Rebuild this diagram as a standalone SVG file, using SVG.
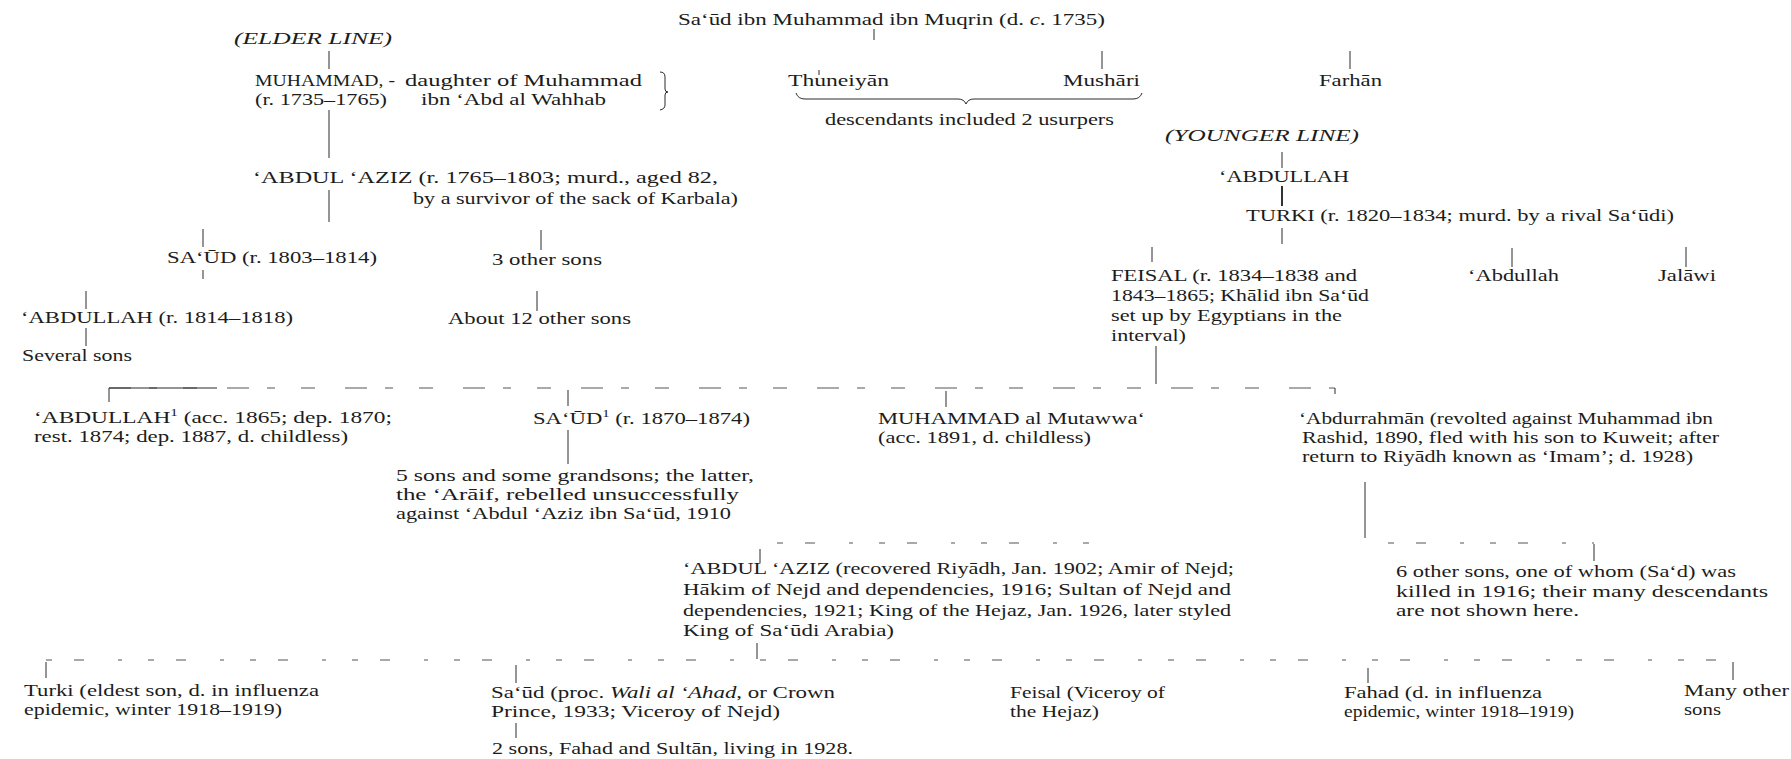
<svg xmlns="http://www.w3.org/2000/svg" width="1791" height="759" viewBox="0 0 1791 759">
<style>
text{font-family:"Liberation Serif","DejaVu Serif",serif;font-size:17px;fill:#1c1c1c}
.it{font-style:italic}
.sup{font-size:11px}
.c{stroke:#2a2a2a;stroke-width:1;fill:none}
.b{stroke:#1c1c1c;stroke-width:1.8;fill:none}
.f{stroke:#555;stroke-width:1;fill:none;stroke-dasharray:22 18 8 26 14 30}
.f2{stroke:#555;stroke-width:1;fill:none;stroke-dasharray:6 22 10 34 4 26}
</style>
<rect width="1791" height="759" fill="#fff"/>
<g id="connectors">
<line class="c" x1="874" y1="29" x2="874" y2="40"/>
<line class="c" x1="329" y1="51" x2="329" y2="69"/>
<line class="c" x1="329" y1="110" x2="329" y2="158"/>
<line class="c" x1="329" y1="190" x2="329" y2="222"/>
<line class="c" x1="203" y1="229" x2="203" y2="247"/>
<line class="c" x1="203" y1="270" x2="203" y2="279"/>
<line class="c" x1="541" y1="230" x2="541" y2="250"/>
<line class="c" x1="86" y1="291" x2="86" y2="309"/>
<line class="c" x1="537" y1="291" x2="537" y2="311"/>
<line class="c" x1="86" y1="328" x2="86" y2="346"/>
<line class="c" x1="819" y1="70" x2="819" y2="75"/>
<line class="c" x1="1102" y1="51" x2="1102" y2="69"/>
<line class="c" x1="1350" y1="51" x2="1350" y2="69"/>
<path class="c" d="M796,93 q2,6 9,6 H958 q6,0 8,5 q2,-5 8,-5 H1133 q7,0 9,-6"/>
<path class="c" d="M660,72 q5,0 5,5 v12 q0,3 3,3 q-3,0 -3,3 v10 q0,4 -5,5"/>
<line class="c" x1="1282" y1="152" x2="1282" y2="168"/>
<line class="b" x1="1282" y1="186" x2="1282" y2="206"/>
<line class="c" x1="1282" y1="228" x2="1282" y2="244"/>
<line class="c" x1="1152" y1="247" x2="1152" y2="262"/>
<line class="c" x1="1512" y1="248" x2="1512" y2="267"/>
<line class="c" x1="1686" y1="247" x2="1686" y2="267"/>
<line class="c" x1="1156" y1="346" x2="1156" y2="384"/>
<line class="f" x1="109" y1="388" x2="1335" y2="388"/>
<line class="c" x1="109" y1="388" x2="217" y2="388"/>
<line class="c" x1="109" y1="388" x2="109" y2="402"/>
<line class="c" x1="1335" y1="388" x2="1335" y2="394"/>
<line class="c" x1="568" y1="390" x2="568" y2="406"/>
<line class="c" x1="946" y1="391" x2="946" y2="407"/>
<line class="c" x1="568" y1="430" x2="568" y2="464"/>
<line class="c" x1="1365" y1="482" x2="1365" y2="538"/>
<line class="f2" x1="777" y1="543" x2="1097" y2="543"/>
<line class="f2" x1="1388" y1="543" x2="1594" y2="543"/>
<line class="c" x1="1594" y1="544" x2="1594" y2="561"/>
<line class="c" x1="760" y1="549" x2="760" y2="563"/>
<line class="c" x1="757" y1="643" x2="757" y2="659"/>
<line class="f2" x1="46" y1="660" x2="1733" y2="660"/>
<line class="c" x1="46" y1="662" x2="46" y2="678"/>
<line class="c" x1="516" y1="665" x2="516" y2="683"/>
<line class="c" x1="1368" y1="668" x2="1368" y2="683"/>
<line class="c" x1="1733" y1="662" x2="1733" y2="680"/>
<line class="c" x1="516" y1="723" x2="516" y2="738"/>
</g>
<g id="saud-ibn-muhammad"><text x="678" y="25" textLength="427" lengthAdjust="spacingAndGlyphs">Sa‘ūd ibn Muhammad ibn Muqrin (d. <tspan class="it">c</tspan>. 1735)</text></g>
<g id="elder-line"><text class="it" x="234" y="44" textLength="158" lengthAdjust="spacingAndGlyphs">(ELDER LINE)</text></g>
<g id="muhammad">
<text x="255" y="86" textLength="140" lengthAdjust="spacingAndGlyphs">MUHAMMAD, -</text>
<text x="255" y="105" textLength="132" lengthAdjust="spacingAndGlyphs">(r. 1735–1765)</text>
</g>
<g id="daughter">
<text x="405" y="86" textLength="237" lengthAdjust="spacingAndGlyphs">daughter of Muhammad</text>
<text x="421" y="105" textLength="185" lengthAdjust="spacingAndGlyphs">ibn ‘Abd al Wahhab</text>
</g>
<g id="abdul-aziz-1">
<text x="253" y="183" textLength="465" lengthAdjust="spacingAndGlyphs">‘ABDUL ‘AZIZ (r. 1765–1803; murd., aged 82,</text>
<text x="413" y="204" textLength="325" lengthAdjust="spacingAndGlyphs">by a survivor of the sack of Karbala)</text>
</g>
<g id="saud-1"><text x="167" y="263" textLength="210" lengthAdjust="spacingAndGlyphs">SA‘ŪD (r. 1803–1814)</text></g>
<g id="three-other-sons"><text x="492" y="265" textLength="110" lengthAdjust="spacingAndGlyphs">3 other sons</text></g>
<g id="abdullah-1"><text x="21" y="323" textLength="272" lengthAdjust="spacingAndGlyphs">‘ABDULLAH (r. 1814–1818)</text></g>
<g id="about-12-sons"><text x="448" y="324" textLength="183" lengthAdjust="spacingAndGlyphs">About 12 other sons</text></g>
<g id="several-sons"><text x="22" y="361" textLength="110" lengthAdjust="spacingAndGlyphs">Several sons</text></g>
<g id="thuneiyan"><text x="788" y="86" textLength="101" lengthAdjust="spacingAndGlyphs">Thuneiyān</text></g>
<g id="mushari"><text x="1063" y="86" textLength="77" lengthAdjust="spacingAndGlyphs">Mushāri</text></g>
<g id="descendants"><text x="825" y="125" textLength="289" lengthAdjust="spacingAndGlyphs">descendants included 2 usurpers</text></g>
<g id="farhan"><text x="1319" y="86" textLength="63" lengthAdjust="spacingAndGlyphs">Farhān</text></g>
<g id="younger-line"><text class="it" x="1165" y="141" textLength="194" lengthAdjust="spacingAndGlyphs">(YOUNGER LINE)</text></g>
<g id="abdullah-2"><text x="1219" y="182" textLength="130" lengthAdjust="spacingAndGlyphs">‘ABDULLAH</text></g>
<g id="turki-1"><text x="1246" y="221" textLength="428" lengthAdjust="spacingAndGlyphs">TURKI (r. 1820–1834; murd. by a rival Sa‘ūdi)</text></g>
<g id="feisal-1">
<text x="1111" y="281" textLength="246" lengthAdjust="spacingAndGlyphs">FEISAL (r. 1834–1838 and</text>
<text x="1111" y="301" textLength="258" lengthAdjust="spacingAndGlyphs">1843–1865; Khālid ibn Sa‘ūd</text>
<text x="1111" y="321" textLength="231" lengthAdjust="spacingAndGlyphs">set up by Egyptians in the</text>
<text x="1111" y="341" textLength="75" lengthAdjust="spacingAndGlyphs">interval)</text>
</g>
<g id="abdullah-3"><text x="1468" y="281" textLength="91" lengthAdjust="spacingAndGlyphs">‘Abdullah</text></g>
<g id="jalawi"><text x="1658" y="281" textLength="58" lengthAdjust="spacingAndGlyphs">Jalāwi</text></g>
<g id="abdullah-4">
<text x="34" y="423" textLength="358" lengthAdjust="spacingAndGlyphs">‘ABDULLAH<tspan class="sup" dy="-7">1</tspan><tspan dy="7"> (acc. 1865; dep. 1870;</tspan></text>
<text x="34" y="442" textLength="314" lengthAdjust="spacingAndGlyphs">rest. 1874; dep. 1887, d. childless)</text>
</g>
<g id="saud-2"><text x="533" y="424" textLength="217" lengthAdjust="spacingAndGlyphs">SA‘ŪD<tspan class="sup" dy="-7">1</tspan><tspan dy="7"> (r. 1870–1874)</tspan></text></g>
<g id="five-sons">
<text x="396" y="481" textLength="358" lengthAdjust="spacingAndGlyphs">5 sons and some grandsons; the latter,</text>
<text x="396" y="500" textLength="343" lengthAdjust="spacingAndGlyphs">the ‘Arāif, rebelled unsuccessfully</text>
<text x="396" y="519" textLength="335" lengthAdjust="spacingAndGlyphs">against ‘Abdul ‘Aziz ibn Sa‘ūd, 1910</text>
</g>
<g id="muhammad-mutawwa">
<text x="878" y="424" textLength="267" lengthAdjust="spacingAndGlyphs">MUHAMMAD al Mutawwa‘</text>
<text x="878" y="443" textLength="213" lengthAdjust="spacingAndGlyphs">(acc. 1891, d. childless)</text>
</g>
<g id="abdurrahman">
<text x="1299" y="424" textLength="414" lengthAdjust="spacingAndGlyphs">‘Abdurrahmān (revolted against Muhammad ibn</text>
<text x="1302" y="443" textLength="417" lengthAdjust="spacingAndGlyphs">Rashid, 1890, fled with his son to Kuweit; after</text>
<text x="1302" y="462" textLength="391" lengthAdjust="spacingAndGlyphs">return to Riyādh known as ‘Imam’; d. 1928)</text>
</g>
<g id="abdul-aziz-2">
<text x="683" y="574" textLength="551" lengthAdjust="spacingAndGlyphs">‘ABDUL ‘AZIZ (recovered Riyādh, Jan. 1902; Amir of Nejd;</text>
<text x="683" y="595" textLength="548" lengthAdjust="spacingAndGlyphs">Hākim of Nejd and dependencies, 1916; Sultan of Nejd and</text>
<text x="683" y="616" textLength="548" lengthAdjust="spacingAndGlyphs">dependencies, 1921; King of the Hejaz, Jan. 1926, later styled</text>
<text x="683" y="636" textLength="211" lengthAdjust="spacingAndGlyphs">King of Sa‘ūdi Arabia)</text>
</g>
<g id="six-other-sons">
<text x="1396" y="577" textLength="340" lengthAdjust="spacingAndGlyphs">6 other sons, one of whom (Sa‘d) was</text>
<text x="1396" y="597" textLength="372" lengthAdjust="spacingAndGlyphs">killed in 1916; their many descendants</text>
<text x="1396" y="616" textLength="183" lengthAdjust="spacingAndGlyphs">are not shown here.</text>
</g>
<g id="turki-2">
<text x="24" y="696" textLength="295" lengthAdjust="spacingAndGlyphs">Turki (eldest son, d. in influenza</text>
<text x="24" y="715" textLength="258" lengthAdjust="spacingAndGlyphs">epidemic, winter 1918–1919)</text>
</g>
<g id="saud-3">
<text x="491" y="698" textLength="344" lengthAdjust="spacingAndGlyphs">Sa‘ūd (proc. <tspan class="it">Wali al ‘Ahad</tspan>, or Crown</text>
<text x="491" y="717" textLength="289" lengthAdjust="spacingAndGlyphs">Prince, 1933; Viceroy of Nejd)</text>
</g>
<g id="two-sons"><text x="492" y="754" textLength="361" lengthAdjust="spacingAndGlyphs">2 sons, Fahad and Sultān, living in 1928.</text></g>
<g id="feisal-2">
<text x="1010" y="698" textLength="155" lengthAdjust="spacingAndGlyphs">Feisal (Viceroy of</text>
<text x="1010" y="717" textLength="89" lengthAdjust="spacingAndGlyphs">the Hejaz)</text>
</g>
<g id="fahad">
<text x="1344" y="698" textLength="198" lengthAdjust="spacingAndGlyphs">Fahad (d. in influenza</text>
<text x="1344" y="717" textLength="230" lengthAdjust="spacingAndGlyphs">epidemic, winter 1918–1919)</text>
</g>
<g id="many-other-sons">
<text x="1684" y="696" textLength="105" lengthAdjust="spacingAndGlyphs">Many other</text>
<text x="1684" y="715" textLength="37" lengthAdjust="spacingAndGlyphs">sons</text>
</g>
</svg>
